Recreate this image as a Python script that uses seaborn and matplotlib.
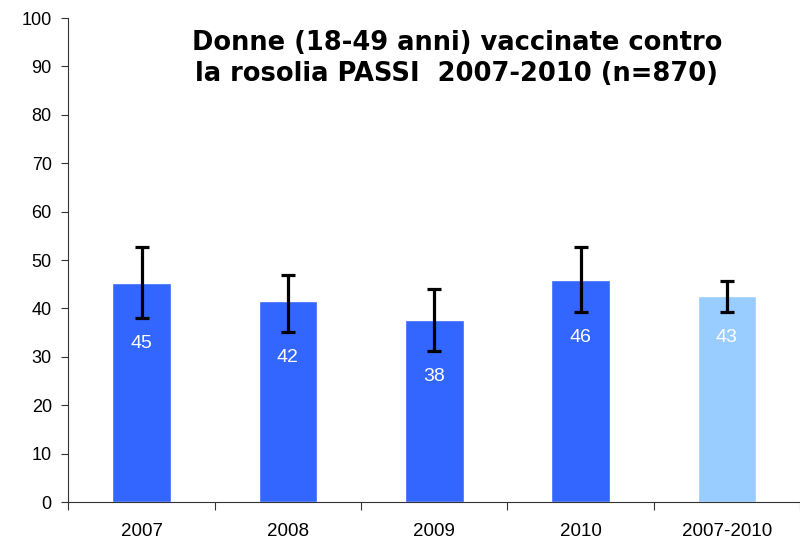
import numpy as np
import pandas as pd
import seaborn as sns
import matplotlib.pyplot as plt

# values
categories = ["2007", "2008", "2009", "2010", "2007-2010"]
values = [45.3, 41.6, 37.7, 45.9, 42.6]
ci_low = [38.0, 35.1, 31.3, 39.3, 39.3]
ci_high = [52.7, 47.0, 44.1, 52.7, 45.7]
bar_colors = ["#3366FF", "#3366FF", "#3366FF", "#3366FF", "#99CCFF"]
title = "Donne (18-49 anni) vaccinate contro\nla rosolia PASSI  2007-2010 (n=870)"

sns.set_style("white")
plt.rcParams["font.family"] = ["Liberation Sans", "DejaVu Sans"]
plt.rcParams["text.color"] = "black"
plt.rcParams["xtick.color"] = "black"
plt.rcParams["ytick.color"] = "black"

df = pd.DataFrame({"anno": categories, "pct": values})

fig = plt.figure(figsize=(8, 5.39), dpi=100)
ax = fig.add_axes([0.0856, 0.0686, 0.9144, 0.898])

sns.barplot(data=df, x="anno", y="pct", hue="anno", palette=bar_colors,
            legend=False, width=0.4, saturation=1, ax=ax)

vals = np.array(values)
yerr = np.vstack([vals - np.array(ci_low), np.array(ci_high) - vals])
ax.errorbar(np.arange(len(categories)), vals, yerr=yerr, fmt="none",
            ecolor="black", elinewidth=2.3, capsize=4.7, capthick=2.3, zorder=5)

# white value labels inside the bars, just under the lower error bar
for i, (v, lo) in enumerate(zip(values, ci_low)):
    ax.text(i, lo - 5.3, f"{round(v)}", color="white", ha="center", va="center",
            fontsize=14)

ax.set_ylim(0, 100)
ax.set_xlim(-0.5, len(categories) - 0.5)
ax.set_yticks(range(0, 101, 10))
ax.set_xlabel("")
ax.set_ylabel("")

ax.set_xticks(np.arange(-0.5, len(categories), 1.0), minor=True)
ax.tick_params(axis="x", which="major", length=0, pad=15, labelsize=13.5)
ax.tick_params(axis="x", which="minor", length=6, width=0.8, direction="out",
               color="#333333", bottom=True)
ax.tick_params(axis="y", length=5, width=0.8, direction="out", pad=7,
               color="#333333", labelsize=13, left=True)

sns.despine(ax=ax, top=True, right=True)
for s in ["left", "bottom"]:
    ax.spines[s].set_color("#333333")
    ax.spines[s].set_linewidth(0.8)

ax.text(0.531, 0.976, title, transform=ax.transAxes, ha="center", va="top",
        fontsize=18.5, fontweight="bold", family="DejaVu Sans", color="black",
        linespacing=1.27)

fig.savefig("out.png", dpi=100)
